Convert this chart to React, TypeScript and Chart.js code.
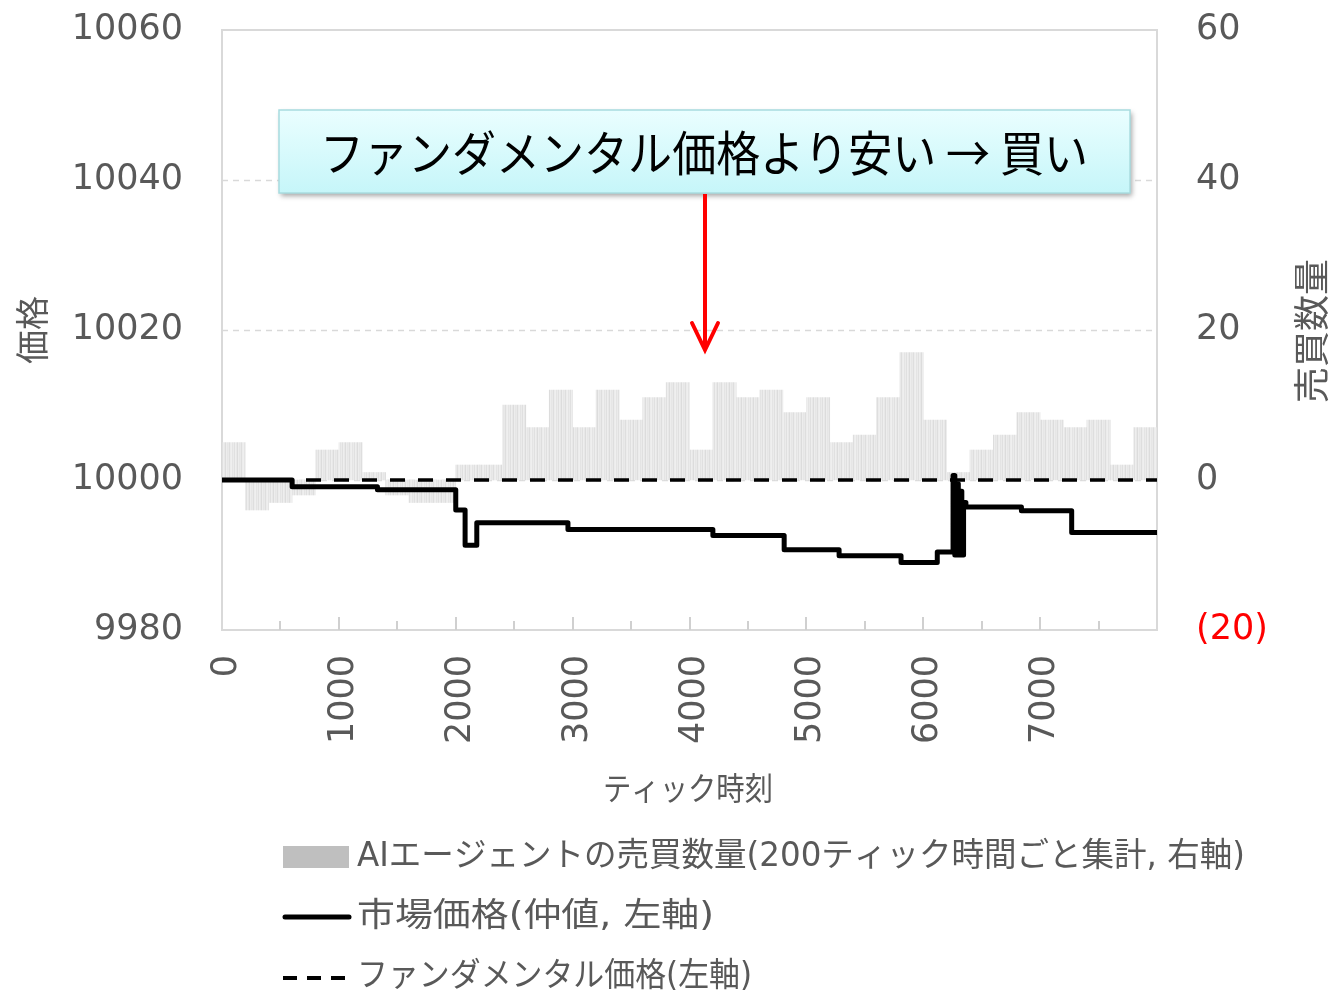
import React, { useEffect, useRef } from "react";
import { Chart, registerables } from "chart.js";

Chart.register(...registerables);

// ---- data ----
const barCenters: number[] = [
  100, 300, 500, 700, 900, 1100, 1300, 1500, 1700, 1900,
  2100, 2300, 2500, 2700, 2900, 3100, 3300, 3500, 3700, 3900,
  4100, 4300, 4500, 4700, 4900, 5100, 5300, 5500, 5700, 5900,
  6100, 6300, 6500, 6700, 6900, 7100, 7300, 7500, 7700, 7900,
];
const tradeVolume: number[] = [
  5, -4, -3, -2, 4, 5, 1, -2, -3, -3,
  2, 2, 10, 7, 12, 7, 12, 8, 11, 13,
  4, 13, 11, 12, 9, 11, 5, 6, 11, 17,
  8, 1, 4, 6, 9, 8, 7, 8, 2, 7,
];
const marketTicks: number[] = [
  0, 600, 1330, 2000, 2080, 2180, 2960, 4200, 4810, 5280, 5810, 6120,
  6255, 6270, 6285, 6300, 6315, 6330, 6345, 6365, 6840, 7270, 8000,
];
const marketPrice: number[] = [
  10000, 9999.1, 9998.7, 9996, 9991.3, 9994.3, 9993.4, 9992.6, 9990.7, 9989.9, 9989, 9990.4,
  10000.6, 9990, 9999.5, 9990, 9998.5, 9990, 9997, 9996.4, 9995.9, 9993, 9993,
];
const fundamentalTicks: number[] = [0, 8000];
const fundamentalPrice: number[] = [10000, 10000];

const xTickValues: number[] = [0, 1000, 2000, 3000, 4000, 5000, 6000, 7000];
const leftTickValues: number[] = [9980, 10000, 10020, 10040, 10060];
const rightTickValues: number[] = [-20, 0, 20, 40, 60];

const legendLabels: string[] = [
  "AIエージェントの売買数量(200ティック時間ごと集計, 右軸)",
  "市場価格(仲値, 左軸)",
  "ファンダメンタル価格(左軸)",
];
const annotationText = "ファンダメンタル価格より安い → 買い";
const xTitle = "ティック時刻";
const leftTitle = "価格";
const rightTitle = "売買数量";

const GRAY = "#595959";
const NUM_FONT = '"DejaVu Sans", "Noto Sans CJK JP"';
const JP_FONT = '"DejaVu Sans", "Noto Sans CJK JP"';
const CJK_FONT = '"Noto Sans CJK JP", "DejaVu Sans"';

function fitText(ctx: CanvasRenderingContext2D, text: string, x: number, y: number, targetW: number, align: "left" | "center") {
  const w = ctx.measureText(text).width;
  let sx = targetW / w;
  if (sx > 1.15) sx = 1.15;
  if (sx < 0.75) sx = 0.75;
  ctx.save();
  ctx.translate(x, y);
  ctx.scale(sx, 1);
  ctx.textAlign = "left";
  ctx.fillText(text, align === "center" ? -w / 2 : 0, 0);
  ctx.restore();
}

function makePattern(): CanvasPattern | string {
  const c = document.createElement("canvas");
  c.width = 12;
  c.height = 4;
  const g = c.getContext("2d");
  if (!g) return "#e6e6e6";
  const stripes = ["#e9e9e9", "#dedede", "#ececec", "#efefef", "#e4e4e4", "#ebebeb", "#e0e0e0", "#eeeeee", "#e8e8e8", "#dcdcdc", "#ededed", "#e6e6e6"];
  stripes.forEach((col, i) => {
    g.fillStyle = col;
    g.fillRect(i, 0, 1, 4);
  });
  const ctx = document.createElement("canvas").getContext("2d");
  return ctx ? (ctx.createPattern(c, "repeat") as CanvasPattern) : "#e6e6e6";
}

const framePlugin = {
  id: "frameGrid",
  beforeDatasetsDraw(chart: any) {
    const { ctx, chartArea } = chart;
    const y = chart.scales.y;
    const x = chart.scales.x;
    ctx.save();
    ctx.strokeStyle = "#d9d9d9";
    ctx.lineWidth = 1.5;
    ctx.setLineDash([6, 5]);
    leftTickValues.forEach((v) => {
      if (v === 9980 || v === 10060) return;
      const py = Math.round(y.getPixelForValue(v)) + 0.5;
      ctx.beginPath();
      ctx.moveTo(chartArea.left, py);
      ctx.lineTo(chartArea.right, py);
      ctx.stroke();
    });
    ctx.setLineDash([]);
    ctx.strokeStyle = "#d9d9d9";
    ctx.lineWidth = 2;
    ctx.strokeRect(chartArea.left, chartArea.top, chartArea.right - chartArea.left, chartArea.bottom - chartArea.top);
    ctx.strokeStyle = "#d0d0d0";
    ctx.lineWidth = 2;
    for (let t = 500; t < 8000; t += 500) {
      const px = Math.round(x.getPixelForValue(t));
      const len = t % 1000 === 0 ? 13 : 9;
      ctx.beginPath();
      ctx.moveTo(px, chartArea.bottom);
      ctx.lineTo(px, chartArea.bottom - len);
      ctx.stroke();
    }
    ctx.restore();
  },
};

const overlayPlugin = {
  id: "overlay",
  afterDraw(chart: any) {
    const { ctx } = chart;
    ctx.save();
    ctx.fillStyle = GRAY;
    ctx.textBaseline = "middle";
    ctx.font = `32px ${JP_FONT}`;
    fitText(ctx, xTitle, 688, 792, 170, "center");
    ctx.font = `34px ${JP_FONT}`;
    ctx.save();
    ctx.translate(36, 330);
    ctx.rotate(-Math.PI / 2);
    ctx.textAlign = "center";
    ctx.fillText(leftTitle, 0, 0);
    ctx.restore();
    ctx.font = `36px ${JP_FONT}`;
    ctx.save();
    ctx.translate(1316, 331);
    ctx.rotate(-Math.PI / 2);
    ctx.textAlign = "center";
    ctx.fillText(rightTitle, 0, 0);
    ctx.restore();

    // legend
    ctx.fillStyle = "#bfbfbf";
    ctx.fillRect(283, 846, 66, 22);
    ctx.strokeStyle = "#000";
    ctx.lineWidth = 5;
    ctx.lineCap = "round";
    ctx.beginPath();
    ctx.moveTo(285, 917);
    ctx.lineTo(349, 917);
    ctx.stroke();
    ctx.lineCap = "butt";
    ctx.lineWidth = 4;
    ctx.setLineDash([14, 10]);
    ctx.beginPath();
    ctx.moveTo(283, 978);
    ctx.lineTo(352, 978);
    ctx.stroke();
    ctx.setLineDash([]);
    ctx.fillStyle = GRAY;
    ctx.font = `33px ${JP_FONT}`;
    fitText(ctx, legendLabels[0], 357, 857, 888, "left");
    fitText(ctx, legendLabels[1], 357, 917, 357, "left");
    fitText(ctx, legendLabels[2], 357, 977, 395, "left");

    // annotation box
    ctx.save();
    ctx.shadowColor = "rgba(0,0,0,0.35)";
    ctx.shadowBlur = 5;
    ctx.shadowOffsetX = 2;
    ctx.shadowOffsetY = 3;
    const grad = ctx.createLinearGradient(0, 110, 0, 193);
    grad.addColorStop(0, "#eafeff");
    grad.addColorStop(1, "#c6f6f9");
    ctx.fillStyle = grad;
    ctx.fillRect(279, 110, 851, 83);
    ctx.restore();
    ctx.strokeStyle = "#a8dcdf";
    ctx.lineWidth = 1.5;
    ctx.strokeRect(279, 110, 851, 83);
    ctx.fillStyle = "#000";
    ctx.font = `48px ${CJK_FONT}`;
    ctx.textBaseline = "middle";
    fitText(ctx, annotationText, 704, 153, 768, "center");

    // red arrow
    ctx.strokeStyle = "#ff0000";
    ctx.lineWidth = 4;
    ctx.beginPath();
    ctx.moveTo(705, 194);
    ctx.lineTo(705, 348);
    ctx.stroke();
    ctx.lineCap = "round";
    ctx.lineJoin = "miter";
    ctx.beginPath();
    ctx.moveTo(692, 323);
    ctx.lineTo(705, 350);
    ctx.lineTo(718, 323);
    ctx.stroke();
    ctx.restore();
  },
};

export default function App() {
  const ref = useRef<HTMLCanvasElement | null>(null);
  useEffect(() => {
    if (!ref.current) return;
    const pattern = makePattern();
    const chart = new Chart(ref.current, {
      type: "bar",
      data: {
        datasets: [
          {
            type: "line",
            label: legendLabels[1],
            data: marketTicks.map((t, i) => ({ x: t, y: marketPrice[i] })),
            yAxisID: "y",
            borderColor: "#000000",
            borderWidth: 5,
            pointRadius: 0,
            stepped: true,
            fill: false,
            order: 1,
            borderJoinStyle: "round",
          } as any,
          {
            type: "line",
            label: legendLabels[2],
            data: fundamentalTicks.map((t, i) => ({ x: t, y: fundamentalPrice[i] })),
            yAxisID: "y",
            borderColor: "#000000",
            borderWidth: 3.5,
            borderDash: [15, 13],
            pointRadius: 0,
            fill: false,
            order: 2,
          } as any,
          {
            type: "bar",
            label: legendLabels[0],
            data: barCenters.map((c, i) => ({ x: c, y: tradeVolume[i] })),
            yAxisID: "y1",
            backgroundColor: pattern as any,
            borderWidth: 0,
            barPercentage: 1,
            categoryPercentage: 1,
            order: 3,
          } as any,
        ],
      },
      options: {
        animation: false,
        responsive: false,
        layout: { padding: { top: 30, left: 0, right: 0, bottom: 0 } },
        plugins: { legend: { display: false }, tooltip: { enabled: false } },
        scales: {
          x: {
            type: "linear",
            min: 0,
            max: 8000,
            offset: false,
            grid: { display: false, drawTicks: false },
            border: { display: false },
            afterBuildTicks: (s: any) => {
              s.ticks = xTickValues.map((v) => ({ value: v }));
            },
            ticks: {
              autoSkip: false,
              minRotation: 90,
              maxRotation: 90,
              padding: 25,
              labelOffset: 5,
              color: GRAY,
              font: { family: NUM_FONT, size: 35 },
              callback: (v: any) => String(v),
            },
            afterFit: (s: any) => {
              s.height = 370;
              s.paddingLeft = 0;
              s.paddingRight = 0;
              s.paddingTop = 0;
              s.paddingBottom = 0;
            },
          },
          y: {
            position: "left",
            min: 9980,
            max: 10060,
            grid: { display: false, drawTicks: false },
            border: { display: false },
            afterBuildTicks: (s: any) => {
              s.ticks = leftTickValues.map((v) => ({ value: v }));
            },
            ticks: {
              padding: 39,
              color: GRAY,
              font: { family: NUM_FONT, size: 35 },
              callback: (v: any) => String(v),
            },
            afterFit: (s: any) => {
              s.width = 222;
              s.paddingTop = 0;
              s.paddingBottom = 0;
            },
          },
          y1: {
            position: "right",
            min: -20,
            max: 60,
            grid: { display: false, drawTicks: false },
            border: { display: false },
            afterBuildTicks: (s: any) => {
              s.ticks = rightTickValues.map((v) => ({ value: v }));
            },
            ticks: {
              padding: 39,
              color: (c: any) => (c.tick && c.tick.value < 0 ? "#ff0000" : GRAY),
              font: { family: NUM_FONT, size: 35 },
              callback: (v: any) => (v < 0 ? `(${-v})` : String(v)),
            },
            afterFit: (s: any) => {
              s.width = 178;
              s.paddingTop = 0;
              s.paddingBottom = 0;
            },
          },
        },
      } as any,
      plugins: [framePlugin, overlayPlugin],
    });
    return () => chart.destroy();
  }, []);
  return (
    <div style={{ position: "absolute", left: 0, top: 0, width: 1335, height: 1000, background: "#fff" }}>
      <canvas ref={ref} width={1335} height={1000} />
    </div>
  );
}
